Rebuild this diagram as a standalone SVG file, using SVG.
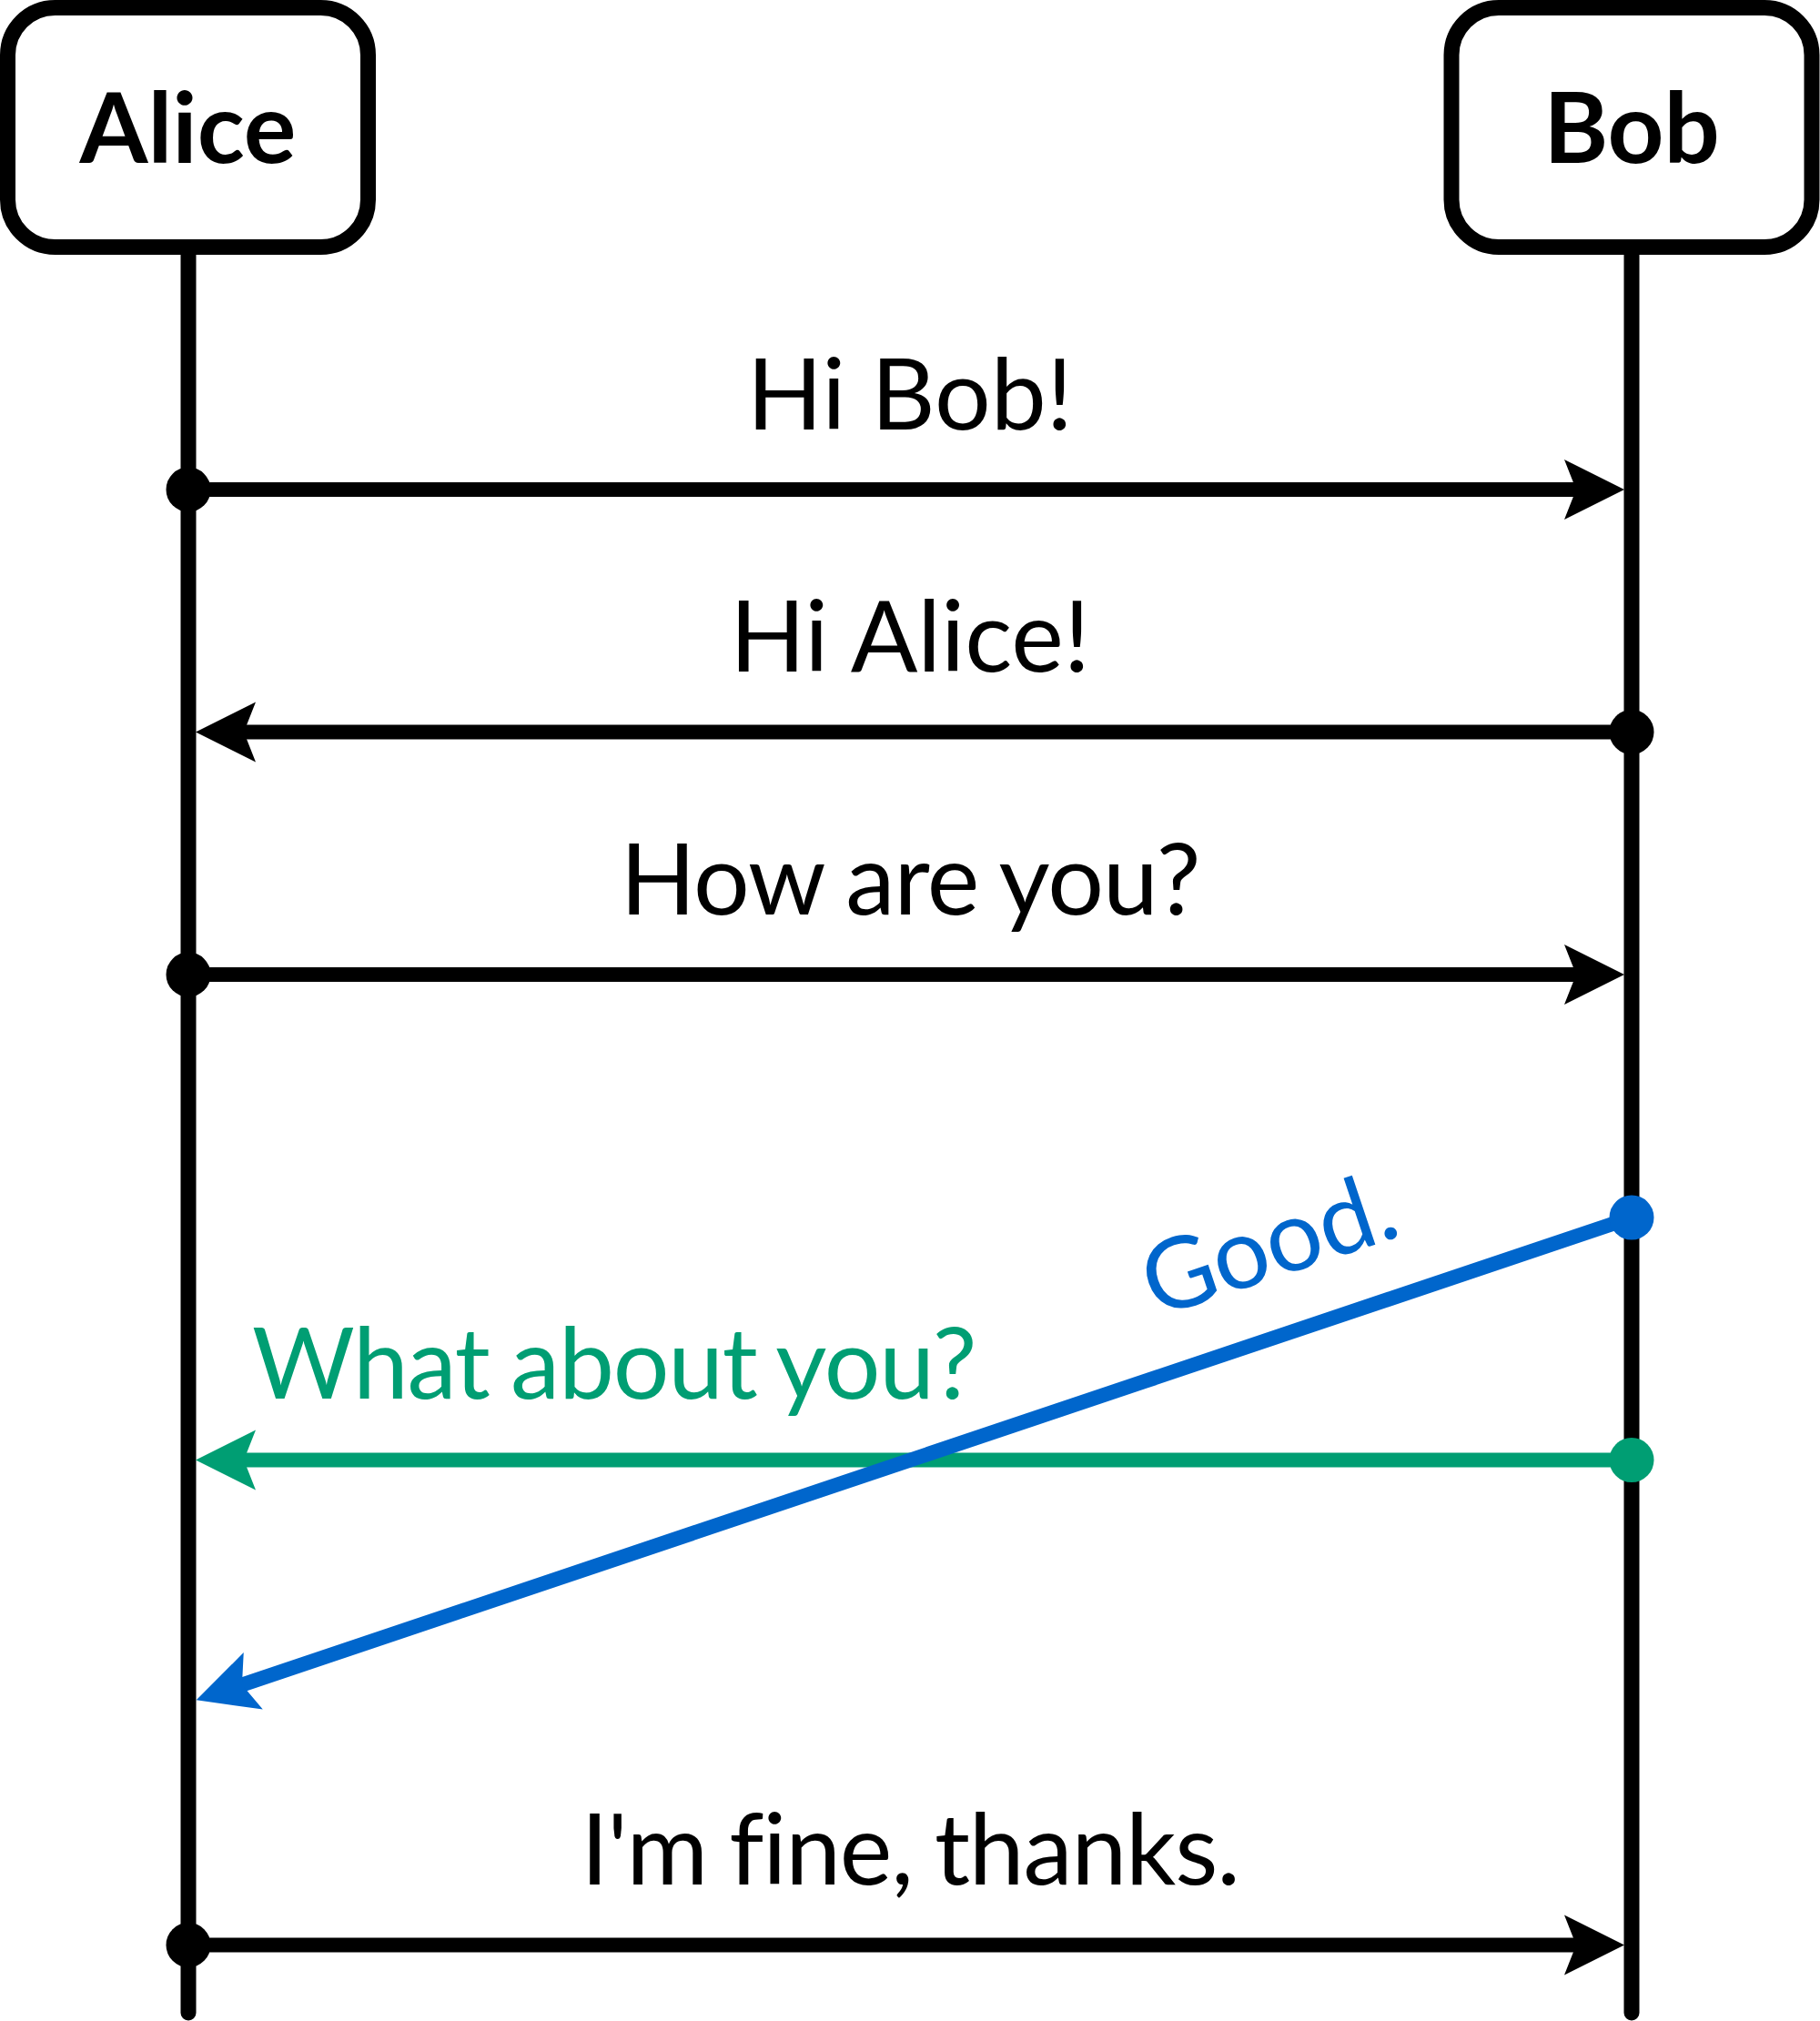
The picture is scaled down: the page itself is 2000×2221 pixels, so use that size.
<svg xmlns="http://www.w3.org/2000/svg" width="2000" height="2221" viewBox="0 0 2000 2221">
<style>
  .box { fill: #ffffff; stroke: #000000; stroke-width: 17; }
  .life { stroke: #000000; stroke-width: 17; stroke-linecap: round; fill: none; }
  .msg { stroke-width: 16; fill: none; }
  .lbl { font-family: Lato, "Liberation Sans", sans-serif; font-size: 109px; text-anchor: middle; }
  .name { font-family: Lato, "Liberation Sans", sans-serif; font-size: 108px; font-weight: bold; text-anchor: middle; }
</style>
<defs>
  <marker id="ahK" markerUnits="userSpaceOnUse" orient="auto" markerWidth="1" markerHeight="1" refX="0" refY="0" overflow="visible">
    <path d="M52,0 L-14,-33 L-1,0 L-14,33 Z" fill="#000000"/>
  </marker>
  <marker id="ahB" markerUnits="userSpaceOnUse" orient="auto" markerWidth="1" markerHeight="1" refX="0" refY="0" overflow="visible">
    <path d="M52,0 L-14,-33 L-1,0 L-14,33 Z" fill="#0066CC"/>
  </marker>
  <marker id="ahG" markerUnits="userSpaceOnUse" orient="auto" markerWidth="1" markerHeight="1" refX="0" refY="0" overflow="visible">
    <path d="M52,0 L-14,-33 L-1,0 L-14,33 Z" fill="#009E73"/>
  </marker>
  <marker id="dK" markerUnits="userSpaceOnUse" markerWidth="1" markerHeight="1" refX="0" refY="0" overflow="visible">
    <circle cx="0" cy="0" r="24.5" fill="#000000"/>
  </marker>
  <marker id="dB" markerUnits="userSpaceOnUse" markerWidth="1" markerHeight="1" refX="0" refY="0" overflow="visible">
    <circle cx="0" cy="0" r="24.5" fill="#0066CC"/>
  </marker>
  <marker id="dG" markerUnits="userSpaceOnUse" markerWidth="1" markerHeight="1" refX="0" refY="0" overflow="visible">
    <circle cx="0" cy="0" r="24.5" fill="#009E73"/>
  </marker>
</defs>
<rect width="2000" height="2221" fill="#ffffff"/>

<g id="alice">
  <line class="life" x1="207" y1="280" x2="207" y2="2212"/>
  <rect class="box" x="8.5" y="8.5" width="396" height="263" rx="52" ry="52"/>
  <text class="name" x="206.5" y="179">Alice</text>
</g>
<g id="bob">
  <line class="life" x1="1793" y1="280" x2="1793" y2="2212"/>
  <rect class="box" x="1595" y="8.5" width="396" height="263" rx="52" ry="52"/>
  <text class="name" x="1793" y="179">Bob</text>
</g>

<g id="connectors">
  <line class="msg" stroke="#000000" x1="207" y1="538" x2="1733" y2="538" marker-start="url(#dK)" marker-end="url(#ahK)"/>
  <line class="msg" stroke="#000000" x1="1793" y1="804.5" x2="267" y2="804.5" marker-start="url(#dK)" marker-end="url(#ahK)"/>
  <line class="msg" stroke="#000000" x1="207" y1="1071" x2="1733" y2="1071" marker-start="url(#dK)" marker-end="url(#ahK)"/>
  <line class="msg" stroke="#009E73" x1="1793" y1="1604.5" x2="267" y2="1604.5" marker-start="url(#dG)" marker-end="url(#ahG)"/>
  <line class="msg" stroke="#0066CC" x1="1793" y1="1338" x2="265" y2="1851.8" marker-start="url(#dB)" marker-end="url(#ahB)"/>
  <line class="msg" stroke="#000000" x1="207" y1="2137.5" x2="1733" y2="2137.5" marker-start="url(#dK)" marker-end="url(#ahK)"/>
</g>

<g id="labels">
  <text class="lbl" x="1000" y="472" fill="#000000">Hi Bob!</text>
  <text class="lbl" x="1000" y="738" fill="#000000">Hi Alice!</text>
  <text class="lbl" x="1000" y="1005" fill="#000000" letter-spacing="-1" word-spacing="-2">How are you?</text>
  <text class="lbl" x="277" y="1537" fill="#009E73" style="text-anchor:start" letter-spacing="-1.3" word-spacing="-3">What about you?</text>
  <text class="lbl" fill="#0066CC" transform="translate(1406,1403) rotate(-18.58)" letter-spacing="-0.5">Good.</text>
  <text class="lbl" x="1000" y="2071" fill="#000000" letter-spacing="-1.2" word-spacing="-2.5">I'm fine, thanks.</text>
</g>
</svg>
